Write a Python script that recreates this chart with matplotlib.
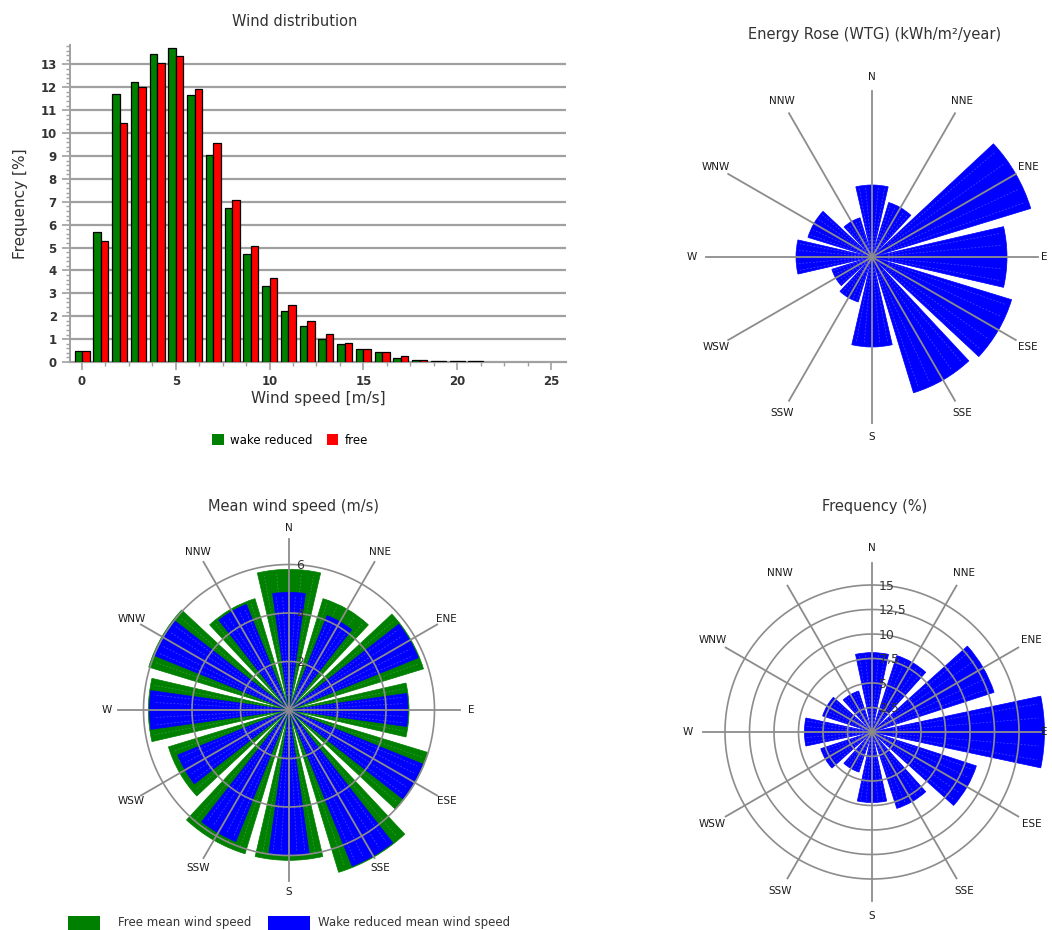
import numpy as np
import matplotlib
matplotlib.use("Agg")
import matplotlib.pyplot as plt
from matplotlib.patches import Patch, Rectangle

# ---------------- data ----------------
speed_bins = list(range(0, 22))
freq_wake = [0.49, 5.67, 11.73, 12.24, 13.45, 13.70, 11.66, 9.06, 6.75, 4.73, 3.33,
             2.24, 1.56, 1.02, 0.77, 0.57, 0.44, 0.17, 0.10, 0.04, 0.04, 0.04]
freq_free = [0.49, 5.29, 10.43, 12.03, 13.07, 13.38, 11.92, 9.55, 7.08, 5.07, 3.65,
             2.49, 1.77, 1.22, 0.83, 0.57, 0.44, 0.25, 0.10, 0.04, 0.04, 0.04]

directions = ["N", "NNE", "ENE", "E", "ESE", "SSE", "S", "SSW", "WSW", "W", "WNW", "NNW"]
direction_deg = [0, 30, 60, 90, 120, 150, 180, 210, 240, 270, 300, 330]

energy_rose = [720, 570, 1660, 1350, 1460, 1420, 900, 470, 420, 760, 670, 410]

mean_free = [5.8, 4.8, 5.8, 4.95, 6.0, 7.0, 6.2, 6.2, 5.2, 5.8, 6.05, 4.8]
mean_wake = [4.85, 4.2, 5.75, 4.9, 5.95, 6.95, 6.0, 5.85, 4.95, 5.75, 6.0, 4.7]

sector_freq = [8.1, 8.2, 13.1, 17.6, 11.2, 8.2, 7.2, 4.3, 5.5, 6.9, 5.3, 4.4]

mean_rings = [2, 4, 6]
freq_rings = [2.5, 5, 7.5, 10, 12.5, 15]
freq_ring_labels = ["2,5", "5", "7,5", "10", "12,5", "15"]

# ---------------- style ----------------
W, H = 1052, 930
GREEN = "#008000"
RED = "#ff0000"
BLUE = "#0000ff"
GRID = "#8c8c8c"
TXT = "#333333"
plt.rcParams["font.family"] = ["DejaVu Sans"]

fig = plt.figure(figsize=(W / 100, H / 100), dpi=100)
fig.patch.set_facecolor("white")


def px_box(cx, cy, r):
    """Axes rectangle (figure fraction) of a square of half-size r centred at pixel (cx, cy)."""
    return [(cx - r) / W, (H - cy - r) / H, 2 * r / W, 2 * r / H]


# ---------------- wind distribution histogram ----------------
ax = fig.add_axes([70 / W, 1 - 362 / H, (566 - 70) / W, (362 - 45) / H])
bw = 0.4
x = np.array(speed_bins, dtype=float)
ax.bar(x - bw, freq_wake, width=bw, align="edge", color=GREEN, edgecolor="black",
       linewidth=0.9, zorder=3)
ax.bar(x, freq_free, width=bw, align="edge", color=RED, edgecolor="black",
       linewidth=0.9, zorder=3)
ax.set_xlim(-0.64, 25.8)
ax.set_ylim(0, 13.85)
for yv in range(1, 14):
    ax.axhline(yv, color="#a0a0a0", lw=1.6, zorder=1)
for s in ["top", "right"]:
    ax.spines[s].set_visible(False)
ax.spines["left"].set_color("#a0a0a0")
ax.spines["bottom"].set_color("#a0a0a0")
ax.spines["left"].set_linewidth(1.4)
ax.spines["bottom"].set_linewidth(1.6)
ax.set_yticks(range(0, 14))
ax.set_yticks(np.arange(0, 13.85, 0.2), minor=True)
ax.set_xticks([0, 5, 10, 15, 20, 25])
ax.set_xticks(np.arange(0, 25.9, 1.25), minor=True)
ax.tick_params(axis="both", which="major", colors="#a0a0a0", length=6, width=1.2,
               labelcolor=TXT, labelsize=8.5)
ax.tick_params(axis="both", which="minor", colors="#a0a0a0", length=3, width=1.0)
for lab in ax.get_xticklabels() + ax.get_yticklabels():
    lab.set_fontweight("bold")
ax.set_xlabel("Wind speed [m/s]", fontsize=11, color=TXT, labelpad=2)
ax.set_ylabel("Frequency [%]", fontsize=11, color=TXT, labelpad=9)
fig.text(295 / W, 1 - 22 / H, "Wind distribution", ha="center", va="center",
         fontsize=10.5, color=TXT)
fig.legend(handles=[Patch(facecolor=GREEN, edgecolor="none", label="wake reduced"),
                    Patch(facecolor=RED, edgecolor="none", label="free")],
           loc="center", bbox_to_anchor=(290 / W, 1 - 440 / H), ncol=2, frameon=False,
           handlelength=1.0, handleheight=1.0, handletextpad=0.5, columnspacing=1.2,
           fontsize=8.5)


# ---------------- polar helpers ----------------
def rose_axes(cx, cy, rpx, rlim):
    pax = fig.add_axes(px_box(cx, cy, rpx), projection="polar")
    pax.set_theta_zero_location("N")
    pax.set_theta_direction(-1)
    pax.set_ylim(0, rlim)
    pax.set_axis_off()
    return pax


def wedges(pax, values, width_deg, color, dash_color, z):
    th = np.deg2rad(direction_deg)
    wd = np.deg2rad(width_deg)
    pax.bar(th, values, width=wd, color=color, edgecolor=color, linewidth=0.5,
            zorder=z, clip_on=False)
    # light dashed texture inside each wedge
    for t, v in zip(th, values):
        for k in np.linspace(-0.4, 0.4, 5):
            pax.plot([t + k * wd, t + k * wd], [0.12 * v, 0.97 * v], color=dash_color,
                     lw=0.5, ls=(0, (2.5, 2.5)), alpha=0.6, zorder=z + 0.1, clip_on=False)


def spokes_and_labels(pax, r_spoke, r_label, r_label_east=None):
    for ang, name in zip(direction_deg, directions):
        t = np.deg2rad(ang)
        pax.plot([t, t], [0, r_spoke], color=GRID, lw=1.3, zorder=10, clip_on=False)
        rl = r_label_east if (name == "E" and r_label_east is not None) else r_label
        pax.text(t, rl, name, ha="center", va="center", fontsize=7.5,
                 color="#1a1a1a", zorder=11, clip_on=False)


def rings(pax, radii, labels):
    tt = np.linspace(0, 2 * np.pi, 361)
    for rv, lab in zip(radii, labels):
        pax.plot(tt, np.full_like(tt, rv), color=GRID, lw=1.2, zorder=9, clip_on=False)
        pax.annotate(lab, xy=(0, rv), xytext=(5, -1), textcoords="offset points",
                     ha="left", va="center", fontsize=9, color=TXT, zorder=12,
                     annotation_clip=False)


# ---------------- energy rose ----------------
eax = rose_axes(872, 257, 170, 1700)
wedges(eax, energy_rose, 26, BLUE, "#8080ff", 3)
spokes_and_labels(eax, 1660, 1800, 1720)
fig.text(875 / W, 1 - 34 / H, "Energy Rose (WTG) (kWh/m\u00b2/year)", ha="center",
         va="center", fontsize=10.5, color=TXT)

# ---------------- mean wind speed rose ----------------
mrpx = 175
m_scale = 24.25  # px per m/s
max_ = rose_axes(289, 710, mrpx, mrpx / m_scale)
wedges(max_, mean_free, 26, GREEN, "#66b366", 3)
wedges(max_, mean_wake, 16, BLUE, "#8080ff", 4)
rings(max_, mean_rings, [str(v) for v in mean_rings])
spokes_and_labels(max_, 171 / m_scale, 182 / m_scale)
fig.text(293 / W, 1 - 506 / H, "Mean wind speed (m/s)", ha="center", va="center",
         fontsize=10.5, color=TXT)

# legend strip along the bottom edge
fig.add_artist(Rectangle((68 / W, 0), 32 / W, 14 / H, transform=fig.transFigure,
                         facecolor=GREEN, edgecolor="none"))
fig.text(118 / W, 8 / H, "Free mean wind speed", ha="left", va="center",
         fontsize=8.5, color=TXT)
fig.add_artist(Rectangle((268 / W, 0), 42 / W, 14 / H, transform=fig.transFigure,
                         facecolor=BLUE, edgecolor="none"))
fig.text(318 / W, 8 / H, "Wake reduced mean wind speed", ha="left", va="center",
         fontsize=8.5, color=TXT)

# ---------------- frequency rose ----------------
frpx = 180
f_scale = 9.8  # px per %
fax = rose_axes(872, 732, frpx, frpx / f_scale)
wedges(fax, sector_freq, 24, BLUE, "#8080ff", 3)
rings(fax, freq_rings, freq_ring_labels)
spokes_and_labels(fax, 169 / f_scale, 184 / f_scale, 172 / f_scale)
fig.text(875 / W, 1 - 506 / H, "Frequency (%)", ha="center", va="center",
         fontsize=10.5, color=TXT)

fig.savefig("out.png", dpi=100, facecolor="white")
